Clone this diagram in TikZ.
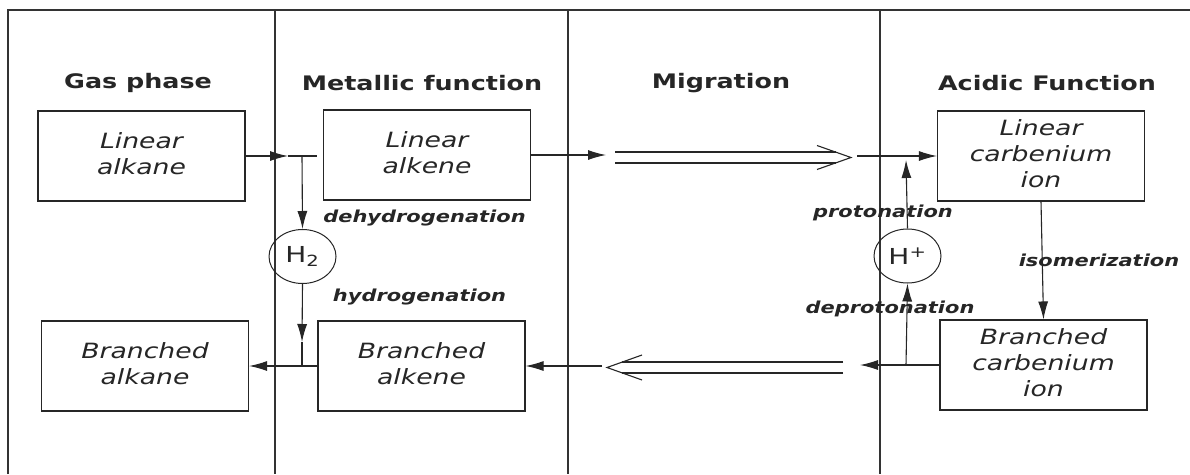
\documentclass[tikz,border=0pt]{standalone}
\usepackage{fontspec}
\setmainfont{DejaVu Sans}
\usepackage{graphicx}
\usetikzlibrary{arrows.meta,shapes.geometric}

% all lettering in this scheme is set slightly wide
\newcommand{\wide}[1]{\scalebox{1.27}[1]{#1}}
\newcommand{\species}[1]{\wide{\fontsize{21}{26}\selectfont\itshape\begin{tabular}{@{}c@{}}#1\end{tabular}}}

\colorlet{ink}{black!85}

\begin{document}
\begin{tikzpicture}[x=1pt,y=-1pt,
  frame/.style={line width=1.6pt, draw=black!80},
  spbox/.style={draw=ink, line width=1.1pt, minimum width=207pt, minimum height=90pt, inner sep=0pt, text=ink},
  head/.style={font=\fontsize{20}{24}\selectfont\bfseries, inner sep=0pt, text=ink},
  lab/.style={font=\fontsize{16.5}{19}\selectfont\bfseries\itshape, inner sep=0pt, text=ink},
  flow/.style={draw=ink, line width=1.1pt, -{Latex[length=18pt,width=10pt]}},
  plain/.style={draw=ink, line width=1.1pt},
  ion/.style={draw=ink, ellipse, line width=1pt, minimum width=67pt, minimum height=54pt, inner sep=0pt, text=ink, font=\fontsize{22}{26}\selectfont}
]
\useasboundingbox (0,0) rectangle (1190,474);
\fill[white] (0,0) rectangle (1190,474);

% outer frame and column dividers
\draw[frame] (8,474) -- (8,10) -- (1190,10);
\draw[frame] (275,10) -- (275,474);
\draw[frame] (568,10) -- (568,474);
\draw[frame] (880,10) -- (880,474);

% column headings
\node[head] (hGas) at (138,83) {\wide{Gas phase}};
\node[head] (hMet) at (422,83) {\wide{Metallic function}};
\node[head] (hMig) at (721,83) {\wide{Migration}};
\node[head] (hAcid) at (1047,83) {\wide{Acidic Function}};

% species
\node[spbox] (la) at (141.5,156) {\species{Linear\\alkane}};
\node[spbox] (le) at (427,155) {\species{Linear\\alkene}};
\node[spbox] (lc) at (1041,156) {\species{Linear\\carbenium\\ion}};
\node[spbox] (ba) at (145,366) {\species{Branched\\alkane}};
\node[spbox] (be) at (421.5,366) {\species{Branched\\alkene}};
\node[spbox] (bc) at (1043.5,365) {\species{Branched\\carbenium\\ion}};

% exchanged species
\node[ion] (h2) at (302.5,256.5) {\wide{H\textsubscript{2}}};
\node[ion] (hp) at (907.5,256) {\wide{H\textsuperscript{+}}};

% step labels
\node[lab] (ldeh) at (424.5,218) {\wide{dehydrogenation}};
\node[lab] (lhyd) at (419.5,297) {\wide{hydrogenation}};
\node[lab] (lpro) at (883,213) {\wide{protonation}};
\node[lab] (ldep) at (890,309) {\wide{deprotonation}};
\node[lab] (liso) at (1099,260) {\wide{isomerization}};

% metallic function: dehydrogenation / hydrogenation
\coordinate (t1) at (288,156);
\coordinate (t1e) at (317,156);
\coordinate (d1) at (302,156);
\draw[flow] (la.east) -- (t1);
\draw[plain] (t1) -- (t1e);
\draw[flow] (d1) -- (h2.north);
\coordinate (t2) at (302,342);
\coordinate (d2) at (302,366);
\draw[flow] (h2.south) -- (t2);
\draw[plain] (t2) -- (d2);
\draw[flow] (be.west) -- (ba.east);

% migration towards the acid sites
\coordinate (m1) at (606,155);
\draw[flow] (le.east) -- (m1);
\coordinate (fa1) at (615,152);
\coordinate (fa2) at (836,152);
\coordinate (fb1) at (615,163);
\coordinate (fb2) at (836,163);
\coordinate (fu) at (817,145.5);
\coordinate (ft) at (851,157.5);
\coordinate (fd) at (817,169.5);
\draw[plain] (fa1) -- (fa2);
\draw[plain] (fb1) -- (fb2);
\draw[plain] (fu) -- (ft) -- (fd);
\coordinate (m2) at (857,156);
\draw[flow] (m2) -- (lc.west);

% acidic function
\coordinate (p1) at (906,160);
\draw[flow] (hp.north) -- (p1);
\coordinate (p0) at (906,365);
\draw[flow] (p0) -- (hp.south);
\coordinate (m3) at (860,365);
\draw[flow] (bc.west) -- (m3);
\draw[flow] (lc.south) -- (bc.north);

% migration back to the metal sites
\coordinate (ra1) at (843,362);
\coordinate (ra2) at (622,362);
\coordinate (rb1) at (843,373);
\coordinate (rb2) at (622,373);
\coordinate (ru) at (642,355);
\coordinate (rt) at (607,367.5);
\coordinate (rd) at (642,380);
\draw[plain] (ra1) -- (ra2);
\draw[plain] (rb1) -- (rb2);
\draw[plain] (ru) -- (rt) -- (rd);
\coordinate (m4) at (602,366);
\draw[flow] (m4) -- (be.east);
\end{tikzpicture}
\end{document}
